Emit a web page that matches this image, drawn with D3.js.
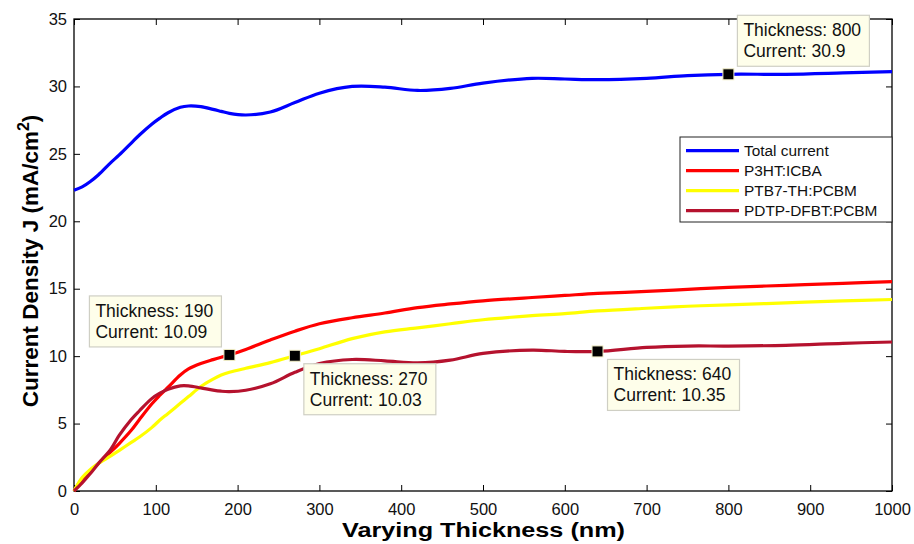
<!DOCTYPE html>
<html>
<head>
<meta charset="utf-8">
<script src="https://cdnjs.cloudflare.com/ajax/libs/d3/7.8.5/d3.min.js"></script>
<style>
  body { margin: 0; background: #fff; font-family: "Liberation Sans", Arial, Helvetica, sans-serif; }
  .tick text { font-size: 16.5px; fill: #111; }
</style>
</head>
<body>
<div id="chart"></div>
<script>
// Data (thickness in nm, current density in mA/cm2)
var thickness    = [0, 10, 20, 30, 45, 55, 70, 80, 95, 105, 115, 130, 140, 155, 170, 180, 190, 210, 240, 270, 300, 340, 380, 420, 460, 500, 560, 600, 640, 700, 750, 800, 870, 940, 1000];
var totalCurrent = [22.3, 22.55, 22.95, 23.45, 24.35, 24.9, 25.8, 26.4, 27.2, 27.65, 28.05, 28.45, 28.55, 28.5, 28.3, 28.15, 28.0, 27.88, 28.1, 28.8, 29.5, 30.0, 29.95, 29.7, 29.85, 30.25, 30.6, 30.55, 30.5, 30.6, 30.8, 30.9, 30.9, 31.0, 31.1];
var p3ht  = [0, 0.9, 1.5, 2.05, 2.9, 3.5, 4.5, 5.3, 6.45, 7.1, 7.7, 8.6, 9.05, 9.45, 9.74, 9.92, 10.09, 10.5, 11.2, 11.85, 12.4, 12.85, 13.2, 13.6, 13.87, 14.1, 14.35, 14.5, 14.65, 14.8, 14.95, 15.1, 15.25, 15.4, 15.52];
var ptb7  = [0, 1.0, 1.6, 2.05, 2.6, 3.0, 3.6, 4.0, 4.7, 5.26, 5.75, 6.5, 7.0, 7.75, 8.3, 8.6, 8.8, 9.1, 9.52, 10.03, 10.55, 11.3, 11.8, 12.1, 12.4, 12.7, 13.0, 13.15, 13.35, 13.55, 13.7, 13.8, 13.95, 14.1, 14.2];
var pdtp  = [0, 0.6, 1.3, 2.05, 3.1, 4.1, 5.3, 5.95, 6.85, 7.25, 7.55, 7.8, 7.8, 7.65, 7.48, 7.4, 7.37, 7.47, 7.95, 8.8, 9.45, 9.75, 9.65, 9.5, 9.7, 10.2, 10.45, 10.35, 10.35, 10.65, 10.75, 10.75, 10.8, 10.95, 11.05];

var seriesNames  = ["Total current", "P3HT:ICBA", "PTB7-TH:PCBM", "PDTP-DFBT:PCBM"];
var seriesColors = ["#0000ff", "#ff0000", "#ffff00", "#b5122e"];
var seriesValues = [totalCurrent, p3ht, ptb7, pdtp];

// data tips
var tipX = [800, 190, 270, 640];
var tipY = [30.9, 10.09, 10.03, 10.35];

var xTicks = [0, 100, 200, 300, 400, 500, 600, 700, 800, 900, 1000];
var yTicks = [0, 5, 10, 15, 20, 25, 30, 35];

var W = 914, H = 544;
var margin = {top: 19, right: 22, bottom: 53, left: 74};
var width = W - margin.left - margin.right,
    height = H - margin.top - margin.bottom;

var svg = d3.select("#chart").append("svg")
    .attr("width", W)
    .attr("height", H);

var g = svg.append("g")
    .attr("transform", "translate(" + margin.left + "," + margin.top + ")");

var x = d3.scaleLinear().domain([0, 1000]).range([0, width]);
var y = d3.scaleLinear().domain([0, 35]).range([height, 0]);

// axes (ticks inside, mirrored on top / right)
function styleAxis(sel) {
  sel.select(".domain").remove();
  sel.selectAll(".tick line").attr("stroke", "#000").attr("stroke-width", 1);
}
g.append("g").attr("transform", "translate(0," + height + ")")
  .call(d3.axisBottom(x).tickValues(xTicks).tickSize(-6).tickPadding(12).tickFormat(d3.format("d")))
  .call(styleAxis);
g.append("g")
  .call(d3.axisTop(x).tickValues(xTicks).tickSize(-6).tickFormat(""))
  .call(styleAxis);
g.append("g")
  .call(d3.axisLeft(y).tickValues(yTicks).tickSize(-6).tickPadding(7).tickFormat(d3.format("d")))
  .call(styleAxis);
g.append("g").attr("transform", "translate(" + width + ",0)")
  .call(d3.axisRight(y).tickValues(yTicks).tickSize(-6).tickFormat(""))
  .call(styleAxis);

g.append("rect")
  .attr("width", width).attr("height", height)
  .attr("fill", "none").attr("stroke", "#000").attr("stroke-width", 1.3);

// curves
var line = d3.line()
  .x(function(d) { return x(d[0]); })
  .y(function(d) { return y(d[1]); })
  .curve(d3.curveCatmullRom.alpha(0.5));

seriesValues.forEach(function(vals, i) {
  g.append("path")
    .datum(thickness.map(function(t, k) { return [t, vals[k]]; }))
    .attr("fill", "none")
    .attr("stroke", seriesColors[i])
    .attr("stroke-width", 3.2)
    .attr("stroke-linejoin", "round")
    .attr("d", line);
});

// markers
tipX.forEach(function(tx, i) {
  g.append("rect")
    .attr("x", x(tx) - 5.5).attr("y", y(tipY[i]) - 5.5)
    .attr("width", 11).attr("height", 11)
    .attr("fill", "#000").attr("stroke", "#f3efc8").attr("stroke-width", 1);
});

// data tip boxes: offset of the box's top-left corner from the marker, px
var tipOffsets = [[9, -59], [-140, -59], [9, 8], [10, 8]];
tipX.forEach(function(tx, i) {
  var px = x(tx) + tipOffsets[i][0], py = y(tipY[i]) + tipOffsets[i][1];
  var tg = g.append("g").attr("transform", "translate(" + px + "," + py + ")");
  tg.append("rect")
    .attr("width", 132).attr("height", 51)
    .attr("fill", "#fefeea").attr("stroke", "#cfcfc4").attr("stroke-width", 1.2);
  tg.append("text").attr("x", 6).attr("y", 21)
    .style("font-size", "17.5px").attr("fill", "#111")
    .text("Thickness: " + tx);
  tg.append("text").attr("x", 6).attr("y", 42)
    .style("font-size", "17.5px").attr("fill", "#111")
    .text("Current: " + tipY[i]);
});

// legend
var lg = g.append("g").attr("transform", "translate(" + (x(1000) - 212) + "," + (137 - margin.top) + ")");
lg.append("rect")
  .attr("width", 212).attr("height", 85)
  .attr("fill", "#fff").attr("stroke", "#222").attr("stroke-width", 1);
seriesNames.forEach(function(name, i) {
  var ly = 13.7 + i * 20;
  lg.append("line")
    .attr("x1", 6).attr("x2", 59).attr("y1", ly).attr("y2", ly)
    .attr("stroke", seriesColors[i]).attr("stroke-width", 3.2);
  lg.append("text")
    .attr("x", 64).attr("y", ly + 5.5)
    .style("font-size", "15.4px").attr("fill", "#111")
    .text(name);
});

// axis titles
svg.append("text")
  .attr("x", margin.left + width / 2 - 141).attr("y", 537)
  .attr("textLength", 283).attr("lengthAdjust", "spacingAndGlyphs")
  .style("font-size", "20px").style("font-weight", "bold")
  .text("Varying Thickness (nm)");

var yl = svg.append("text")
  .attr("transform", "translate(38," + (margin.top + height / 2 + 6) + ") rotate(-90)")
  .attr("text-anchor", "middle")
  .style("font-size", "22.5px").style("font-weight", "bold");
yl.append("tspan").text("Current Density J (mA/cm");
yl.append("tspan").attr("dy", -9).style("font-size", "16px").text("2");
yl.append("tspan").attr("dy", 9).text(")");
</script>
</body>
</html>
